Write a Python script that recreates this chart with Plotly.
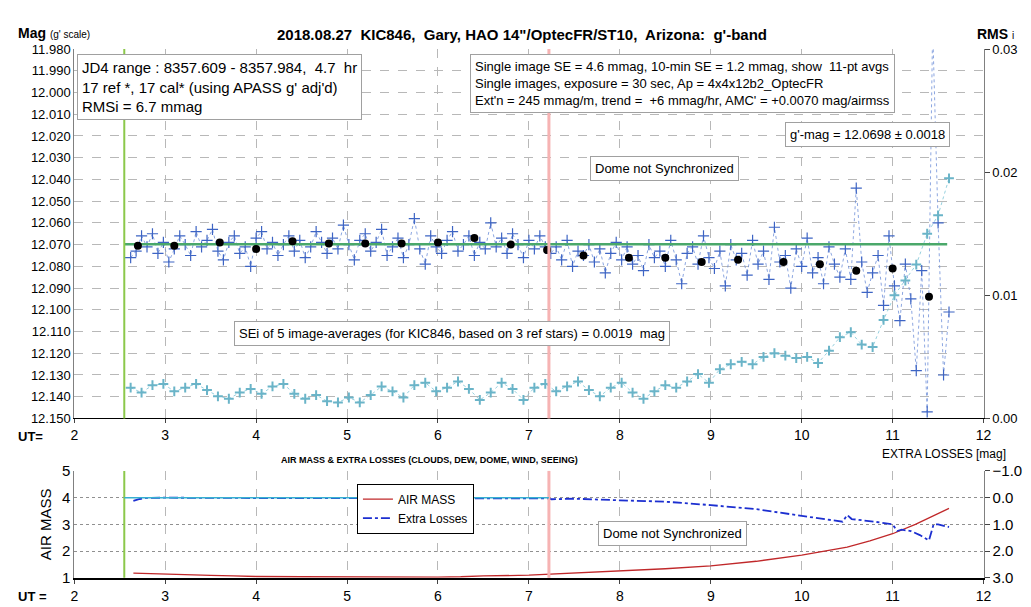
import plotly.graph_objects as go

# ---- data ----
ut_img = [2.62,2.68,2.74,2.80,2.86,2.92,2.98,3.04,3.10,3.16,3.22,3.28,3.34,3.40,3.46,3.52,3.58,3.64,3.70,3.76,
          3.82,3.88,3.94,4.00,4.06,4.12,4.18,4.24,4.30,4.36,4.42,4.48,4.54,4.60,4.66,4.72,4.78,4.84,4.90,4.96,
          5.02,5.08,5.14,5.20,5.26,5.32,5.38,5.44,5.50,5.56,5.62,5.68,5.74,5.80,5.86,5.92,5.98,6.04,6.10,6.16,
          6.22,6.28,6.34,6.40,6.46,6.52,6.58,6.64,6.70,6.76,6.82,6.88,6.94,7.00,7.06,7.12,7.18,
          7.24,7.30,7.36,7.42,7.48,7.54,7.60,7.66,7.72,7.78,7.84,7.90,7.96,8.02,8.08,8.14,8.20,8.26,8.32,8.38,
          8.44,8.50,8.56,8.62,8.68,8.74,8.80,8.86,8.92,8.98,9.04,9.10,9.16,9.22,9.28,9.34,9.40,9.46,9.52,9.58,
          9.64,9.70,9.76,9.82,9.88,9.94,10.00,10.06,10.12,10.18,10.24,10.30,10.36,10.42,
          10.48,10.54,10.60,10.66,10.72,10.78,10.84,10.90,10.96,11.02,11.08,11.14,11.20,11.26,11.32,11.38,11.44,11.50,11.56,11.62]
mag_img = [12.076,12.073,12.066,12.071,12.065,12.074,12.069,12.078,12.072,12.066,
           12.070,12.075,12.064,12.071,12.068,12.063,12.073,12.077,12.069,12.066,
           12.074,12.071,12.080,12.067,12.064,12.072,12.069,12.075,12.070,12.066,
           12.073,12.068,12.076,12.071,12.064,12.069,12.074,12.067,12.072,12.061,
           12.070,12.077,12.068,12.065,12.073,12.069,12.063,12.075,12.071,12.067,
           12.076,12.070,12.058,12.072,12.079,12.066,12.071,12.074,12.068,12.064,
           12.073,12.070,12.066,12.075,12.069,12.072,12.060,12.071,12.067,12.074,
           12.065,12.070,12.076,12.068,12.072,12.066,12.071,
           12.074,12.071,12.077,12.068,12.080,12.073,12.075,12.070,12.078,12.072,
           12.083,12.074,12.069,12.077,12.071,12.079,12.075,12.082,12.070,12.076,
           12.073,12.080,12.068,12.077,12.088,12.074,12.071,12.079,12.066,12.076,
           12.081,12.073,12.089,12.070,12.077,12.074,12.084,12.068,12.079,12.073,
           12.086,12.062,12.078,12.075,12.090,12.072,12.080,12.067,12.083,12.076,
           12.088,12.071,12.079,12.085,
           12.072,12.086,12.044,12.078,12.092,12.083,12.075,12.098,12.066,12.089,
           12.105,12.079,12.095,12.128,12.082,12.147,11.970,12.060,12.130,12.101]

ut_avg = [2.7,3.1,3.6,4.0,4.4,4.8,5.2,5.6,6.0,6.4,6.8,7.2,7.6,8.1,8.5,8.9,9.3,9.8,10.2,10.6,11.0,11.4]
mag_avg = [12.0705,12.0705,12.069,12.072,12.0685,12.0695,12.0695,12.0695,12.069,12.067,12.070,
           12.0725,12.075,12.076,12.076,12.078,12.077,12.078,12.079,12.082,12.081,12.094]

ut_rms = [2.62,2.74,2.86,2.98,3.10,3.22,3.34,3.46,3.58,3.70,3.82,3.94,4.06,4.18,4.30,4.42,4.54,4.66,4.78,4.90,
          5.02,5.14,5.26,5.38,5.50,5.62,5.74,5.86,5.98,6.10,6.22,6.34,6.46,6.58,6.70,6.82,6.94,7.06,7.18,
          7.30,7.42,7.54,7.66,7.78,7.90,8.02,8.14,8.26,8.38,8.50,8.62,8.74,8.86,8.98,9.10,9.22,9.34,9.46,9.58,
          9.70,9.82,9.94,10.06,10.18,10.30,10.42,10.54,10.66,10.78,10.90,11.02,11.14,11.26,11.38,11.50,11.62]
rms_img = [0.0025,0.0021,0.0027,0.0028,0.0022,0.0025,0.0028,0.0023,0.0018,0.0016,
           0.0021,0.0024,0.0020,0.0026,0.0028,0.0020,0.0016,0.0019,0.0014,0.0013,
           0.0017,0.0013,0.0019,0.0026,0.0022,0.0017,0.0027,0.0029,0.0022,0.0025,
           0.0030,0.0024,0.0015,0.0021,0.0029,0.0024,0.0015,0.0025,0.0028,
           0.0022,0.0026,0.0030,0.0023,0.0018,0.0025,0.0029,0.0021,0.0016,0.0022,
           0.0027,0.0025,0.0030,0.0036,0.0029,0.0040,0.0044,0.0046,0.0044,0.0050,
           0.0053,0.0051,0.0049,0.0050,0.0045,0.0055,0.0066,0.0070,0.0060,0.0058,
           0.0080,0.0100,0.0112,0.0125,0.0150,0.0165,0.0195]

gmag = 12.0698
ut_span = [2.55, 11.6]
ut_start = 2.55
ut_dome = 7.22

ut_am = [2.65,2.8,3.0,3.25,3.5,3.75,4.0,4.5,5.0,5.5,6.0,6.25,6.5,7.0,7.2,7.5,8.0,8.5,9.0,9.5,10.0,10.5,10.75,11.0,11.25,11.4,11.62]
airmass = [1.18,1.16,1.14,1.12,1.09,1.07,1.05,1.04,1.03,1.03,1.03,1.04,1.07,1.10,1.13,1.17,1.25,1.34,1.45,1.62,1.85,2.15,2.38,2.65,3.0,3.25,3.6]
ut_el = [2.65,2.72,2.8,3.0,3.5,4.0,4.5,5.0,5.5,6.0,6.5,7.0,7.2,7.25,7.5,8.0,8.5,9.0,9.5,10.0,10.45,10.5,10.55,
         10.8,11.0,11.05,11.1,11.2,11.3,11.4,11.45,11.5,11.62]
extra = [0.12,0.05,0.01,0.0,0.01,0.01,0.02,0.02,0.01,0.02,0.01,0.01,0.03,0.06,0.04,0.1,0.15,0.28,0.43,0.68,0.9,0.65,0.8,
         0.9,1.0,1.25,1.2,1.25,1.4,1.6,1.0,1.0,1.1]

# ---- figure ----
fig = go.Figure()
blue = '#3d64c4'
fig.add_trace(go.Scatter(x=ut_img, y=mag_img, mode='lines+markers', xaxis='x', yaxis='y',
                         line=dict(color='#6f8fd8', width=0.8, dash='dot'),
                         marker=dict(symbol='cross-thin-open', size=8, color=blue, line=dict(width=1.2, color=blue))))
fig.add_trace(go.Scatter(x=ut_span, y=[gmag, gmag], mode='lines', xaxis='x', yaxis='y',
                         line=dict(color='#4aa86a', width=2.5)))
fig.add_trace(go.Scatter(x=ut_avg, y=mag_avg, mode='markers', xaxis='x', yaxis='y',
                         marker=dict(color='black', size=8)))
fig.add_trace(go.Scatter(x=ut_rms, y=rms_img, mode='lines+markers', xaxis='x', yaxis='y2',
                         line=dict(color='#7cc4d6', width=0.8, dash='dot'),
                         marker=dict(symbol='cross-thin-open', size=7, color='#6ab4c8', line=dict(width=2, color='#6ab4c8'))))
fig.add_trace(go.Scatter(x=ut_am, y=airmass, mode='lines', xaxis='x2', yaxis='y3', name='AIR MASS',
                         line=dict(color='#c0282a', width=1.3)))
fig.add_trace(go.Scatter(x=ut_el, y=extra, mode='lines', xaxis='x2', yaxis='y4', name='Extra Losses',
                         line=dict(color='#1c2fd0', width=1.8, dash='dashdot')))

fnt = 'Liberation Sans'
shapes = []
for xr, yr in (('x', 'y'), ('x2', 'y3')):
    shapes.append(dict(type='line', xref=xr, yref=yr + ' domain', x0=ut_start, x1=ut_start, y0=0, y1=1,
                       line=dict(color='#8cc84b', width=2)))
    shapes.append(dict(type='line', xref=xr, yref=yr + ' domain', x0=ut_dome, x1=ut_dome, y0=0, y1=1,
                       line=dict(color='#f6b3b3', width=3)))
shapes.append(dict(type='line', xref='x2', yref='y4', x0=ut_start, x1=7.22, y0=0, y1=0,
                   line=dict(color='#37b0d0', width=1.5)))

def P(px, py):
    return px / 1031, 1 - py / 607

anns = []
def box(px, py, text, size, align='left'):
    x, y = P(px, py)
    anns.append(dict(xref='paper', yref='paper', x=x, y=y, xanchor='left', yanchor='top', text=text,
                     showarrow=False, align=align, font=dict(family=fnt, size=size, color='black'),
                     bordercolor='#a0a0a0', borderwidth=1, bgcolor='white', borderpad=4))
def txt(px, py, text, size, xa='left', bold=False):
    x, y = P(px, py)
    anns.append(dict(xref='paper', yref='paper', x=x, y=y, xanchor=xa, yanchor='middle',
                     text=('<b>%s</b>' % text) if bold else text, showarrow=False,
                     font=dict(family=fnt, size=size, color='black')))

box(66, 38, "JD4 range : 8357.609 - 8357.984,  4.7  hr<br>17 ref *, 17 cal* (using APASS g' adj'd)<br>RMSi = 6.7 mmag", 15)
box(463, 38, "Single image SE = 4.6 mmag, 10-min SE = 1.2 mmag, show  11-pt avgs<br>Single images, exposure = 30 sec, Ap = 4x4x12b2_OptecFR<br>Ext'n = 245 mmag/m, trend =  +6 mmag/hr, AMC' = +0.0070 mag/airmss", 13)
box(782, 108, "g'-mag = 12.0698 ± 0.0018", 13)
box(585, 143, "Dome not Synchronized", 13)
box(225, 313, "SEi of 5 image-averages (for KIC846, based on 3 ref stars) = 0.0019  mag", 13)
box(593, 519, "Dome not Synchronized", 13)
txt(516, 18, "2018.08.27  KIC846,  Gary, HAO 14\"/OptecFR/ST10,  Arizona:  g'-band", 15, 'center', True)
txt(4, 16, "<b>Mag</b> <span style='font-size:10px'>(g' scale)</span>", 14)
txt(974, 17, "<b>RMS</b> <span style='font-size:10px'>i</span>", 14, 'left')
txt(878, 450, "EXTRA LOSSES [mag]", 12, 'left')
txt(4, 432, "<b>UT=</b>", 13)
txt(4, 596, "<b>UT =</b>", 13)
txt(422, 456, "<b>AIR MASS & EXTRA LOSSES (CLOUDS, DEW, DOME, WIND, SEEING)</b>", 9, 'center')

grid_top = dict(showgrid=True, gridcolor='#b8b8b8', griddash='dash', gridwidth=1)
fig.update_layout(
    width=1031, height=607, margin=dict(l=0, r=0, t=0, b=0),
    paper_bgcolor='white', plot_bgcolor='white', showlegend=True,
    font=dict(family=fnt, size=13, color='black'),
    legend=dict(x=349/1031, y=1-480/607, xanchor='left', yanchor='top', bgcolor='white',
                bordercolor='black', borderwidth=1, font=dict(size=12), tracegroupgap=2),
    xaxis=dict(domain=[63/1031, 983/1031], range=[2, 12], dtick=1, anchor='y', showline=True,
               linecolor='black', ticks='outside', ticklen=4, **grid_top, zeroline=False,
               tickfont=dict(size=14)),
    yaxis=dict(domain=[1-413/607, 1-33/607], range=[12.15, 11.98], dtick=0.01, tickformat='.3f',
               showline=True, linecolor='#808080', **grid_top, zeroline=False, tickfont=dict(size=13)),
    yaxis2=dict(overlaying='y', side='right', anchor='x', range=[0, 0.03], dtick=0.01, tickformat='.2f',
                showgrid=False, showline=True, linecolor='#808080', ticks='outside', ticklen=5,
                zeroline=False, tickfont=dict(size=13)),
    xaxis2=dict(domain=[63/1031, 983/1031], range=[2, 12], dtick=1, anchor='y3', showline=True,
                linecolor='black', linewidth=2, ticks='outside', ticklen=4, **grid_top, zeroline=False,
                tickfont=dict(size=14)),
    yaxis3=dict(domain=[1-577/607, 1-467/607], range=[1, 5], dtick=1, showline=True, linecolor='#808080',
                showgrid=True, gridcolor='#909090', griddash='dot', zeroline=False, tickfont=dict(size=15),
                title=dict(text='AIR MASS', font=dict(size=15), standoff=6)),
    yaxis4=dict(overlaying='y3', side='right', anchor='x2', range=[3, -1], dtick=1, tickformat='.1f',
                showgrid=False, showline=True, linecolor='#808080', ticks='outside', ticklen=5,
                zeroline=False, tickfont=dict(size=15)),
    shapes=shapes, annotations=anns)
for i in range(4):
    fig.data[i].showlegend = False
fig.write_html("out.html")
